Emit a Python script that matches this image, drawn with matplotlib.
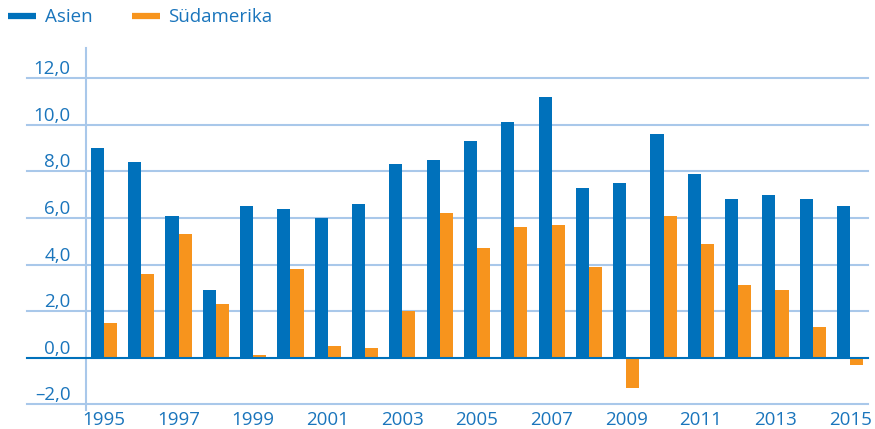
import matplotlib
matplotlib.use("Agg")
import matplotlib.pyplot as plt
import numpy as np
from matplotlib.lines import Line2D

years = list(range(1995, 2016))
asien = [9.0, 8.4, 6.1, 2.9, 6.5, 6.4, 6.0, 6.6, 8.3, 8.5, 9.3, 10.1, 11.2, 7.3, 7.5, 9.6, 7.9, 6.8, 7.0, 6.8, 6.5]
suedamerika = [1.5, 3.6, 5.3, 2.3, 0.1, 3.8, 0.5, 0.4, 2.0, 6.2, 4.7, 5.6, 5.7, 3.9, -1.3, 6.1, 4.9, 3.1, 2.9, 1.3, -0.3]
yticks = [-2, 0, 2, 4, 6, 8, 10, 12]
ytick_labels = ["\u20132,0", "0,0", "2,0", "4,0", "6,0", "8,0", "10,0", "12,0"]
xtick_labels = [str(y) for y in years[::2]]

blue = "#0071bb"
orange = "#f7941d"
grid_c = "#a9c8ea"
text_c = "#1a75bc"

plt.rcParams['font.family'] = ['Open Sans', 'DejaVu Sans']

fig = plt.figure(figsize=(8.75, 4.29), dpi=100)
ax = fig.add_axes([86/875, 1 - 410/429, (868-86)/875, (410-48)/429])

x = np.arange(len(years))
w = 0.35
ax.bar(x - w/2, asien, width=w, color=blue, zorder=3)
ax.bar(x + w/2, suedamerika, width=w, color=orange, zorder=3)

ax.set_xlim(-0.48, len(years) - 1 + 0.48)
ax.set_ylim(-2.25, 13.3)

left_frac = (27 - 86) / 782
for yv in yticks:
    if yv == 0:
        continue
    ax.axhline(yv, color=grid_c, lw=1.5, zorder=1, xmin=left_frac, clip_on=False)
ax.axhline(0, color=blue, lw=1.5, zorder=4, xmin=left_frac, clip_on=False)

for s in ["top", "right", "bottom"]:
    ax.spines[s].set_visible(False)
ax.spines["left"].set_color(grid_c)
ax.spines["left"].set_linewidth(1.5)

ax.set_yticks(yticks)
ax.set_yticklabels(ytick_labels, color=text_c, fontsize=13.5)
ax.set_xticks(x[::2])
ax.set_xticklabels(xtick_labels, color=text_c, fontsize=13.5)
ax.tick_params(axis="y", length=0, pad=11)
ax.tick_params(axis="x", length=0, pad=1)
for lbl in ax.get_yticklabels():
    lbl.set_verticalalignment("bottom")

handles = [Line2D([0], [0], color=blue, lw=4.5, solid_capstyle="butt"),
           Line2D([0], [0], color=orange, lw=4.5, solid_capstyle="butt")]
fig.legend(handles, ["Asien", "S\u00fcdamerika"], loc="upper left", bbox_to_anchor=(-0.01, 1.02),
           ncol=2, frameon=False, fontsize=13.5, labelcolor=text_c, handlelength=1.5,
           columnspacing=2.1, handletextpad=0.45)

fig.savefig("out.png", dpi=100)
